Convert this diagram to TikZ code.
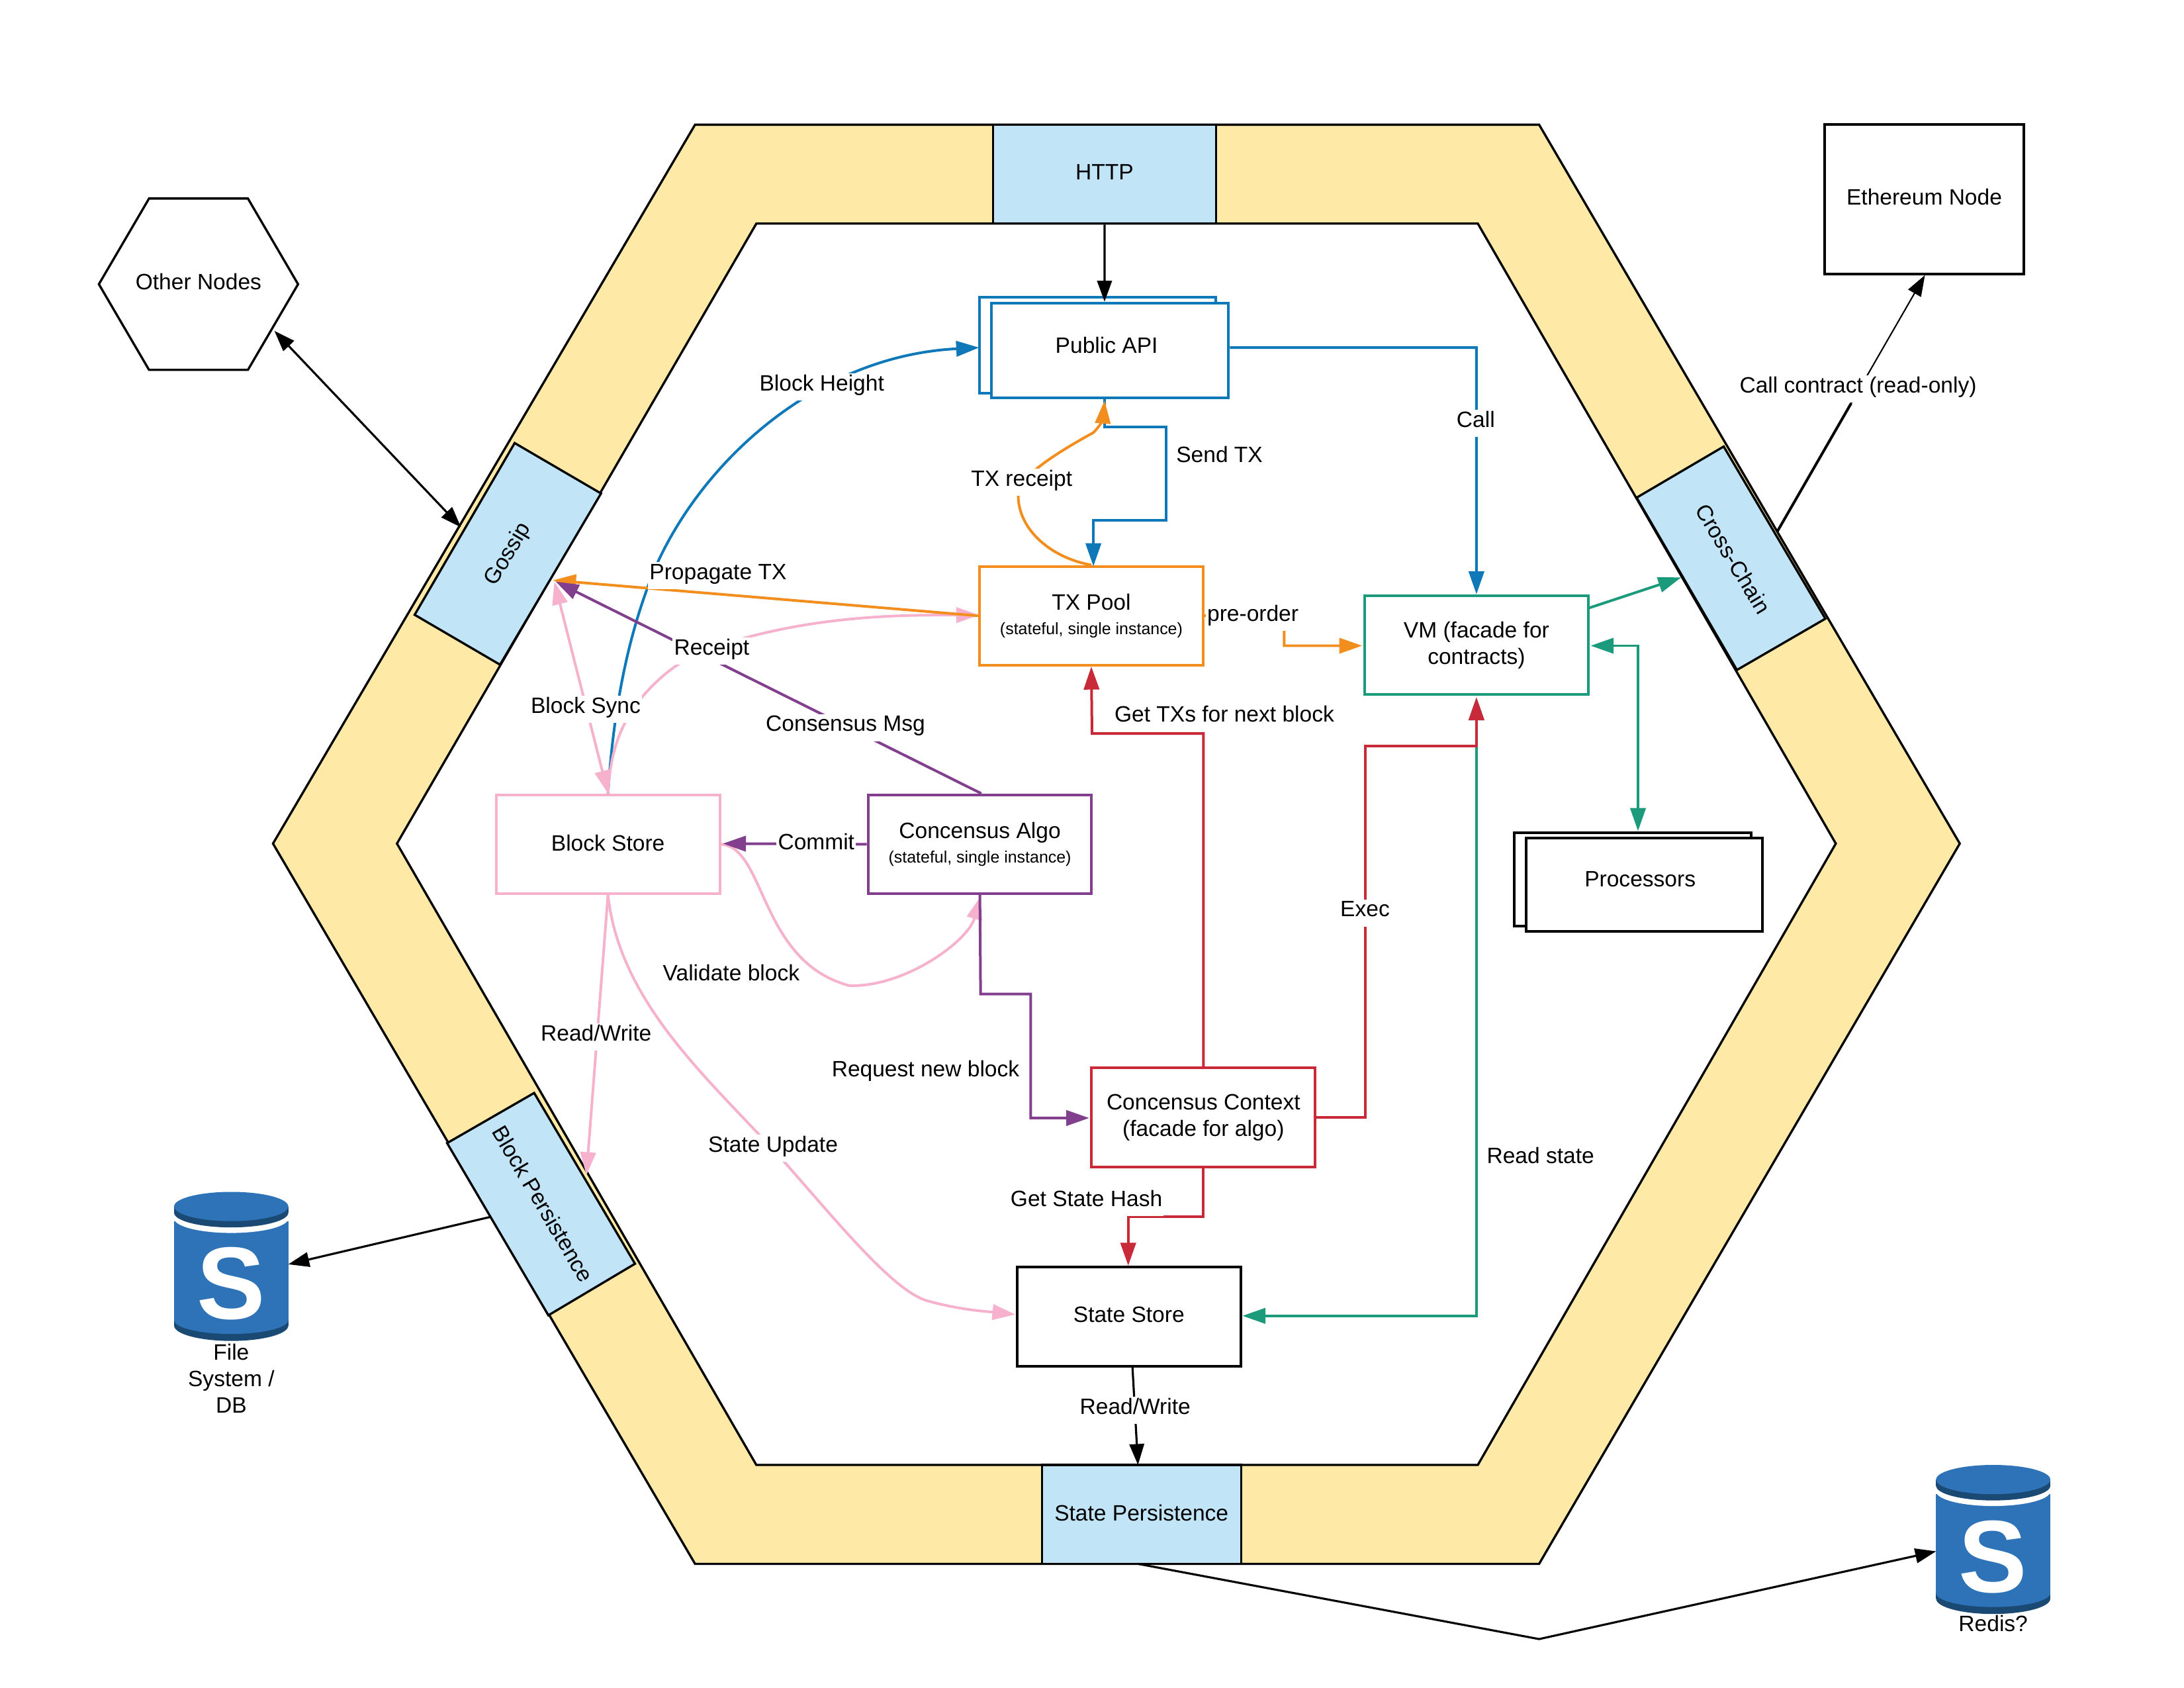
\documentclass[tikz,border=0pt]{standalone}
\usepackage{fontspec}
\setmainfont{Liberation Sans}
\usetikzlibrary{arrows.meta}
\definecolor{ringc}{HTML}{FEE9A6}
\definecolor{portc}{HTML}{C1E4F7}
\definecolor{cblue}{HTML}{0F78B8}
\definecolor{corange}{HTML}{F28E1E}
\definecolor{cred}{HTML}{C92A39}
\definecolor{cpurple}{HTML}{823F8E}
\definecolor{cpink}{HTML}{F6B2CC}
\definecolor{cgreen}{HTML}{1B9A7C}
\definecolor{dbblue}{HTML}{2E73B8}
\definecolor{dbdark}{HTML}{1A4A73}
\newcommand{\smalltxt}{\fontsize{11.9}{14}\selectfont}
\tikzset{
  txt/.style={font=\fontsize{16}{19}\selectfont,align=center,text=black},
  box/.style={txt,draw=#1,line width=1.9bp,fill=white,inner sep=0,minimum width=160.5bp,minimum height=71bp},
  stackback/.style={draw=#1,line width=1.9bp,fill=white},
  port/.style={fill=portc,draw=black,line width=1.6bp,line join=miter},
  lab/.style={txt,fill=white,inner xsep=1bp,inner ysep=0bp,text height=12.5bp,text depth=7bp,yshift=-2.75bp},
  plainlab/.style={txt,inner sep=0bp,text height=11.5bp,text depth=3.4bp,yshift=-1.5bp},
  blackline/.style={draw=black,line width=1.5bp,-{Triangle[length=15bp,width=10.5bp]}},
  conn/.style={draw=#1,line width=1.9bp,-{Triangle[length=16.5bp,width=11bp]}},
  bothconn/.style={draw=#1,line width=1.9bp,{Triangle[length=16.5bp,width=11bp]}-{Triangle[length=16.5bp,width=11bp]}},
  dbcyl/.pic={
    \fill[dbdark] (0,92) rectangle (82,96);
    \fill[dbdark] (41,96) ellipse [x radius=41bp,y radius=11bp];
    \fill[dbblue] (0,21) rectangle (82,92);
    \fill[dbblue] (41,92) ellipse [x radius=41bp,y radius=10bp];
    \fill[white] (41,19) ellipse [x radius=41bp,y radius=10.5bp];
    \fill[dbdark] (0,10.5) rectangle (82,15);
    \fill[dbdark] (41,15) ellipse [x radius=41bp,y radius=10.5bp];
    \fill[dbblue] (41,10.5) ellipse [x radius=41bp,y radius=10.5bp];
    \node[text=white,inner sep=0,font=\fontsize{74}{74}\selectfont\bfseries] at (41,66) {S};
  }
}
\begin{document}
\begin{tikzpicture}[x=1bp,y=-1bp]
\useasboundingbox (0,0) rectangle (1568,1211.6);
\begin{scope}[yshift=-0.5bp]
% ring
\path[fill=ringc,even odd rule,draw=black,line width=1.6bp,line join=miter]
  (499,89) -- (1105,89) -- (1407,605) -- (1105,1122) -- (499,1122) -- (196,605) -- cycle
  (543,160) -- (1061,160) -- (1318,605) -- (1061,1051) -- (543,1051) -- (285,605) -- cycle;
% ports
\node[port,txt,minimum width=160bp,minimum height=71bp,inner sep=0] (http) at (793,124.5) {\raisebox{3bp}{HTTP}};
\node[port,txt,minimum width=143bp,minimum height=71bp,inner sep=0] (statepers) at (819.5,1086.5) {\raisebox{2bp}{State Persistence}};
\draw[port] (369.5,317.5) -- (431.5,353.7) -- (359,476.6) -- (297.7,440.8) -- cycle;
\node[plainlab,rotate=59] (gossip) at (365,396) {Gossip};
\draw[port] (1237.5,320) -- (1175,356.7) -- (1247,480.4) -- (1310.5,443.6) -- cycle;
\node[plainlab,rotate=-59] (cross) at (1243,400) {Cross-Chain};
\draw[port] (383.5,784) -- (321,820) -- (393.7,943.6) -- (455.9,906.6) -- cycle;
\node[plainlab,rotate=-59.5] (blockpers) at (388.5,863) {Block Persistence};
% other nodes
\draw[fill=white,draw=black,line width=1.6bp] (71,203.5) -- (107,142) -- (178,142) -- (214,203.5) -- (178,265) -- (107,265) -- cycle;
\node[plainlab] (other) at (142.5,202) {Other Nodes};
% boxes
\draw[stackback=cblue] (703,213) rectangle (873,281.5);
\node[box=cblue,minimum width=170bp,minimum height=68bp] (api) at (797,251) {};
\node[plainlab] (apilab) at (794.5,247.5) {Public API};
\node[box=corange] (tx) at (783.5,441.5) {TX Pool\\[-1.5bp]{\smalltxt (stateful, single instance)}};
\node[box=cgreen] (vm) at (1060,462.5) {VM (facade for\\contracts)};
\node[box=cpink] (bs) at (436.5,605.5) {\raisebox{1.5bp}{Block Store}};
\node[box=cpurple] (algo) at (703.5,605.5) {Concensus Algo\\[-1.5bp]{\smalltxt (stateful, single instance)}};
\node[box=cred] (ctx) at (864,801.5) {Concensus Context\\(facade for algo)};
\node[box=black] (ss) at (810.5,944.5) {\raisebox{3bp}{State Store}};
\draw[stackback=black] (1087,597) rectangle (1257,664);
\node[box=black,minimum width=170bp,minimum height=67bp] (proc) at (1180.5,634.5) {};
\node[plainlab] (proclab) at (1177.5,630.5) {Processors};
\node[box=black,minimum width=143bp,minimum height=107bp] (eth) at (1381.5,142.5) {\raisebox{3.5bp}{Ethereum Node}};
% databases
\pic at (125,855) {dbcyl};
\coordinate (fs) at (207,907);
\node[txt,inner sep=0] (fslab) at (166,989) {File\\System /\\DB};
\pic at (1390,1051) {dbcyl};
\coordinate (redis) at (1390,1113);
\node[plainlab] (redislab) at (1431,1165) {Redis?};
% black connectors
\draw[blackline] (http.south) -- ([xshift=-4bp]api.north);
\coordinate (otherp) at (197,237);
\coordinate (gossipp) at (331,378);
\draw[draw=black,line width=1.5bp,{Triangle[length=15bp,width=10.5bp]}-{Triangle[length=15bp,width=10.5bp]}] (otherp) -- (gossipp);
\coordinate (bpp) at (352,873);
\draw[blackline] (bpp) -- (fs);
\coordinate (ssout) at (813,980);
\coordinate (spin) at (817,1051);
\draw[blackline] (ssout) -- (spin);
\coordinate (spout) at (817,1122);
\coordinate (bend) at (1105,1176);
\draw[blackline] (spout) -- (bend) -- (redis);
\coordinate (ccout) at (1276,381);
\coordinate (ethin) at (1382,197);
\coordinate (ccmid) at (1329,289);
\draw[blackline,line width=1bp] (ccmid) -- (ethin);
\draw[draw=black,line width=1.9bp] (ccout) -- (ccmid);
% blue
\draw[conn=cblue] ([yshift=2bp]api.east) -- (1060,249) -- (vm.north);
\draw[conn=cblue] ([xshift=-4bp]api.south) -- ++(0,20) -- ++(44,0) -- ++(0,67) -- ++(-52,0) -- ++(0,33);
\draw[conn=cblue] (bs.north) .. controls (441,500) and (453,450) .. (470,408) .. controls (503,332) and (585,255) .. (703,249);
% pink
\coordinate (gossippink) at (398,417);
\draw[bothconn=cpink] (gossippink) -- (bs.north);
\draw[conn=cpink] (bs.north) .. controls (438,540) and (445,520) .. (460,501) .. controls (490,465) and (520,462) .. (537,456.8) .. controls (600,440) and (660,441) .. (703,441);
\draw[conn=cpink] (bs.south) -- (421,843);
\draw[conn=cpink] (bs.south) .. controls (445,720) and (510,775) .. (560,830) .. controls (600,875) and (640,925) .. (665,933) .. controls (690,940) and (710,941) .. (729,943);
\draw[conn=cpink] (bs.east) .. controls (550,608) and (545,690) .. (610,707) .. controls (650,708) and (695,675) .. (704,643);
% orange
\coordinate (gossiporange) at (397,416);
\draw[conn=corange] (tx.west) -- (gossiporange);
\draw[conn=corange] (tx.north) .. controls (755,400) and (731,380) .. (731,355) .. controls (731,345) and (745,332) .. (785,310) .. controls (790,305) and (792,300) .. (793,287);
\draw[conn=corange] (tx.east) -- (922,441) -- (922,463) -- (978,463);
% purple
\coordinate (gossippurple) at (399,417);
\draw[conn=cpurple] ([xshift=1bp]algo.north) -- (gossippurple);
\draw[conn=cpurple] (algo.west) -- (519,605);
\draw[conn=cpurple] (algo.south) -- (704,713) -- (740,713) -- (740,802) -- (782,802);
% green
\coordinate (ssright) at (892,944);
\draw[bothconn=cgreen] (1060,500) -- (1060,944) -- (ssright);
\coordinate (ccin) at (1207,414);
\draw[conn=cgreen] (1140.5,436) -- (ccin);
\draw[bothconn=cgreen] (1142,463) -- (1176,463) -- (1176,596);
% red
\draw[conn=cred] (ctx.north) -- (864,526) -- (784,526) -- (tx.south);
\draw[conn=cred] (ctx.east) -- (980,801.5) -- (980,535) -- (1060,535) -- (1060,500);
\draw[conn=cred] (ctx.south) -- (864,873) -- (810,873) -- (810,908);
% labels
\node[lab] (l1) at (590,274.5) {Block Height};
\node[lab] (l2) at (1059.5,300.5) {Call};
\node[lab] (l3) at (875.5,326) {Send TX};
\node[lab] (l4) at (733.5,343) {TX receipt};
\node[lab] (l5) at (1334,276) {Call contract (read-only)};
\node[lab] (l6) at (515.5,410) {Propagate TX};
\node[lab] (l7) at (511,464) {Receipt};
\node[lab] (l8) at (420.5,506) {Block Sync};
\node[lab] (l9) at (607,519) {Consensus Msg};
\node[lab] (l10) at (899.5,440) {pre-order};
\node[lab] (l11) at (879,512) {Get TXs for next block};
\node[lab] (l12) at (586,604) {Commit};
\node[lab] (l13) at (980,652) {Exec};
\node[lab] (l14) at (525,698) {Validate block};
\node[lab] (l15) at (428,741) {Read/Write};
\node[lab] (l16) at (664.5,767) {Request new block};
\node[lab] (l17) at (555,821) {State Update};
\node[lab] (l18) at (1106,829) {Read state};
\node[lab] (l19) at (780,860) {Get State Hash};
\node[lab] (l20) at (815,1009) {Read/Write};
\end{scope}
\end{tikzpicture}
\end{document}
